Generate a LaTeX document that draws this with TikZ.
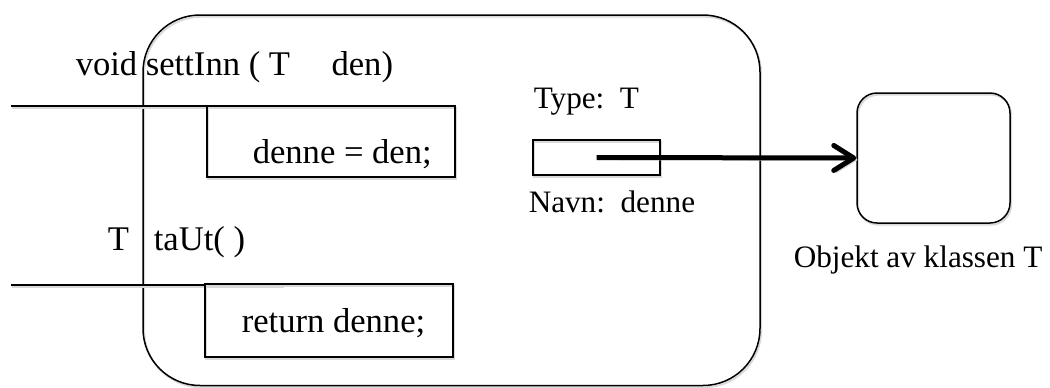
\documentclass[tikz,border=0pt]{standalone}
\usepackage{fontspec}
\setmainfont{Liberation Serif}
\usetikzlibrary{arrows.meta}
\begin{document}
\begin{tikzpicture}[x=0.5pt,y=-0.5pt,
  line width=0.75pt,
  shade/.style={preaction={draw=black!15, line width=0.9pt, transform canvas={shift={(0.6pt,-0.9pt)}}}},
  box/.style={draw, shade, rectangle, inner sep=0pt},
  lblL/.style={anchor=base west, inner sep=0pt, font=\fontsize{17.3}{20}\selectfont},
  lblR/.style={anchor=base west, inner sep=0pt, font=\fontsize{15.6}{18}\selectfont},
  ptr/.style={line width=2.5pt, shade, -{Straight Barb[length=10pt, width=12.5pt, round]}},
]
\useasboundingbox (0,0) rectangle (1050,387);
% class object
\node[box, rounded corners=28.5pt, minimum width=308.5pt, minimum height=185.25pt] (klasse) at (451.5,200.25) {};
% method lines
\coordinate (l1a) at (11,106);
\coordinate (l1b) at (263,106);
\coordinate (l2a) at (11,285);
\coordinate (l2b) at (283,285);
\draw[shade] (l1a) -- (l1b);
\draw[shade] (l2a) -- (l2b);
% method bodies
\node[box, minimum width=124pt, minimum height=35.5pt] (body1) at (331,141.5) {};
\node[box, minimum width=124pt, minimum height=36.5pt] (body2) at (329,320.5) {};
% texts
\node[lblL] (sig1) at (75,75) {void settInn ( T\hspace{1.2em}den)};
\node[lblL] (code1) at (252,163) {denne = den;};
\node[lblL] (sig2) at (107,250) {T\hspace{0.72em}taUt( )};
\node[lblL] (code2) at (241,332) {return denne;};
% variable
\node[lblR] (type) at (533,108) {Type:\ \ T};
\node[box, minimum width=63.5pt, minimum height=17.5pt] (var) at (596.5,157.5) {};
\node[lblR] (navn) at (528,212) {Navn:\ \ denne};
% object
\node[box, rounded corners=10pt, minimum width=76.5pt, minimum height=65pt] (obj) at (933.5,158) {};
\node[lblR] (objlbl) at (793,267) {Objekt av klassen T};
% pointer
\draw[ptr] (var.center) -- (obj.west);
\end{tikzpicture}
\end{document}
